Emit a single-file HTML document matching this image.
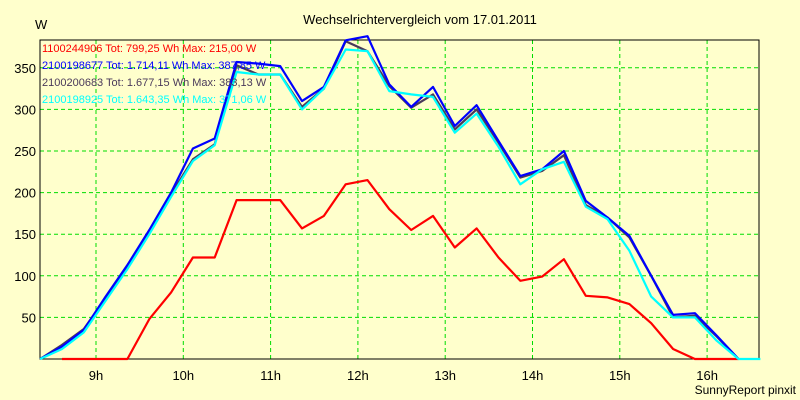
<!DOCTYPE html>
<html><head><meta charset="utf-8"><style>
body{margin:0;background:#ffffcc}
svg{display:block;font-family:"Liberation Sans",sans-serif}
</style></head><body>
<svg id="chart" width="800" height="400">
<rect x="0" y="0" width="800" height="400" fill="#ffffcc"/>
<text x="420" y="24" font-size="13" text-anchor="middle">Wechselrichtervergleich vom 17.01.2011</text>
<text x="35" y="29" font-size="13">W</text>
<text x="796" y="394" font-size="12" text-anchor="end">SunnyReport pinxit</text>
<g id="grid"></g><g id="axes"></g><g id="series"></g><g id="legend"></g>
</svg>
<script>
const times=[8.36,8.61,8.86,9.11,9.36,9.61,9.86,10.11,10.36,10.61,10.86,11.11,11.36,11.61,11.86,12.11,12.36,12.61,12.86,13.11,13.36,13.61,13.86,14.11,14.36,14.61,14.86,15.11,15.36,15.61,15.86,16.11,16.36,16.61];
const redVals=[null,0,0,0,0,48,80,122,122,191,191,191,157,172,210,215,180,155,172,134,157,122,94,99,120,76,74,66,43,12,0,0,0,null];
const blueVals=[0,15,35,75,113,155,200,253,265,357,355,352,310,327,383,388,330,303,327,280,305,262,220,228,250,190,170,148,100,53,55,28,0,null];
const greyVals=[0,17,36,73,110,152,198,240,258,353,342,342,303,325,382,370,328,302,318,276,300,260,218,226,245,185,170,146,100,50,52,27,0,null];
const cyanVals=[0,12,32,70,108,150,195,238,257,345,342,342,300,325,372,370,322,318,315,272,295,255,210,228,237,183,168,130,75,50,50,22,0,0];
const yTicks=[50,100,150,200,250,300,350];
const xTicks=[9,10,11,12,13,14,15,16];
const legendLabels=["1100244906 Tot: 799,25 Wh Max: 215,00 W","2100198677 Tot: 1.714,11 Wh Max: 387,85 W","2100200683 Tot: 1.677,15 Wh Max: 383,13 W","2100198925 Tot: 1.643,35 Wh Max: 371,06 W"];
const L=40,R=759,T=40,B=359;
const xS=h=>96+(h-9)*87.3;
const yS=v=>B-v*0.832;
const NS="http://www.w3.org/2000/svg";
function mk(tag,attrs,parent){const e=document.createElementNS(NS,tag);for(const k in attrs)e.setAttribute(k,attrs[k]);parent.appendChild(e);return e;}
const grid=document.getElementById('grid'),axes=document.getElementById('axes'),ser=document.getElementById('series'),leg=document.getElementById('legend');
yTicks.forEach(v=>{
 const l=mk('line',{x1:L,x2:R,y1:yS(v),y2:yS(v),stroke:'#00dd00','stroke-dasharray':'4,3'},grid);
 
 
 const t=mk('text',{x:36,y:yS(v)+5,'font-size':13,'text-anchor':'end'},axes);
 t.textContent=v;
 
 
});
xTicks.forEach(h=>{
 const l=mk('line',{x1:xS(h),x2:xS(h),y1:T,y2:B,stroke:'#00dd00','stroke-dasharray':'4,3'},grid);
 
 
 const t=mk('text',{x:xS(h),y:380,'font-size':13,'text-anchor':'middle'},axes);
 t.textContent=h+'h';
 
 
});
const frame=mk('rect',{x:L,y:T,width:R-L,height:B-T,fill:'none',stroke:'#000','stroke-width':1},axes);


const series=[[redVals,'#ff0000','series-1100244906'],[greyVals,'#4a3a5a','series-2100200683'],[blueVals,'#0000ff','series-2100198677'],[cyanVals,'#00ffff','series-2100198925']];
series.forEach(([vals,col,name])=>{
 let d='';vals.forEach((v,i)=>{if(v===null)return;d+=(d?'L':'M')+xS(times[i]).toFixed(1)+','+yS(v).toFixed(1);});
 const p=mk('path',{d:d,fill:'none',stroke:col,'stroke-width':2.2,'stroke-linejoin':'round'},ser);
 
 
});
const legCols=['#ff0000','#0000ff','#4a3a5a','#00ffff'];
legendLabels.forEach((s,i)=>{
 const t=mk('text',{x:42,y:52+i*17,'font-size':11,fill:legCols[i]},leg);
 t.textContent=s;
 
 
});
</script>
</body></html>
